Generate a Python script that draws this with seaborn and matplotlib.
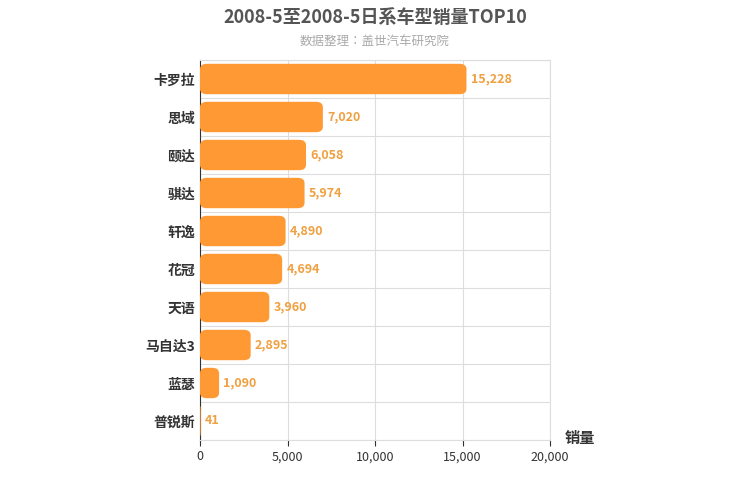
import matplotlib
matplotlib.use("Agg")
import matplotlib.pyplot as plt
from matplotlib import font_manager
from matplotlib.patches import FancyBboxPatch
import seaborn as sns
import pandas as pd

# pick whichever CJK family is actually registered
_names = {f.name for f in font_manager.fontManager.ttflist}
_cjk = [n for n in ["Noto Sans CJK SC", "Noto Sans CJK JP", "Noto Sans CJK TC",
                    "Noto Sans CJK KR", "Noto Sans SC"] if n in _names]
plt.rcParams["font.family"] = _cjk + ["DejaVu Sans"]

MODELS = ["卡罗拉", "思域", "颐达", "骐达", "轩逸", "花冠", "天语", "马自达3", "蓝瑟", "普锐斯"]
SALES = [15228, 7020, 6058, 5974, 4890, 4694, 3960, 2895, 1090, 41]
X_TICKS = [0, 5000, 10000, 15000, 20000]

BAR_COLOR = "#FF9933"
LABEL_COLOR = "#F0A040"

df = pd.DataFrame({"model": MODELS, "sales": SALES})

fig = plt.figure(figsize=(7.5, 5), dpi=100)
ax = fig.add_axes([200 / 750, 60 / 500, 350 / 750, 380 / 500])

sns.barplot(data=df, y="model", x="sales", order=MODELS, color=BAR_COLOR,
            width=0.8, saturation=1, ax=ax)

# swap plain bars for rounded ones
for p in list(ax.patches):
    x, y, w, h = p.get_x(), p.get_y(), p.get_width(), p.get_height()
    p.remove()
    pad = min(400, w / 2)
    rb = FancyBboxPatch((x, y), w, h,
                        boxstyle=f"round,pad=0,rounding_size={pad}",
                        mutation_aspect=h / (2 * pad) * 0.35 if pad > 0 else 1,
                        facecolor=BAR_COLOR, edgecolor="none", zorder=3)
    ax.add_patch(rb)

for i, v in enumerate(SALES):
    ax.text(v + 250, i, f"{v:,}", va="center", ha="left",
            fontsize=9, color=LABEL_COLOR, fontweight="bold", zorder=4)

ax.set_xlim(0, 20000)
ax.set_ylim(len(MODELS) - 0.5, -0.5)
ax.set_xticks(X_TICKS)
ax.set_xticklabels([f"{t:,}" for t in X_TICKS], fontsize=9, color="#333333")
ax.set_yticks(range(len(MODELS)))
ax.set_yticklabels(MODELS, fontsize=10, fontweight="bold", color="#333333")
ax.set_xlabel("")
ax.set_ylabel("")

ax.set_yticks([i + 0.5 for i in range(-1, len(MODELS))], minor=True)
ax.grid(axis="x", color="#DDDDDD", linewidth=0.8, zorder=0)
ax.grid(axis="y", which="minor", color="#DDDDDD", linewidth=0.8, zorder=0)
ax.grid(axis="y", which="major", visible=False)
ax.tick_params(axis="y", which="both", length=0)
ax.tick_params(axis="x", length=4, color="#333333")
ax.set_axisbelow(True)
for s in ["top", "right"]:
    ax.spines[s].set_color("#DDDDDD")
ax.spines["bottom"].set_color("#DDDDDD")
ax.spines["left"].set_color("#333333")

fig.text(0.5, 0.965, "2008-5至2008-5日系车型销量TOP10", ha="center", va="center",
         fontsize=13, fontweight="bold", color="#555555")
fig.text(0.5, 0.918, "数据整理：盖世汽车研究院", ha="center", va="center",
         fontsize=9, color="#AAAAAA")
fig.text(565 / 750, 1 - 438 / 500, "销量", ha="left", va="center",
         fontsize=11, fontweight="bold", color="#333333")

fig.savefig("out.png", dpi=100)
